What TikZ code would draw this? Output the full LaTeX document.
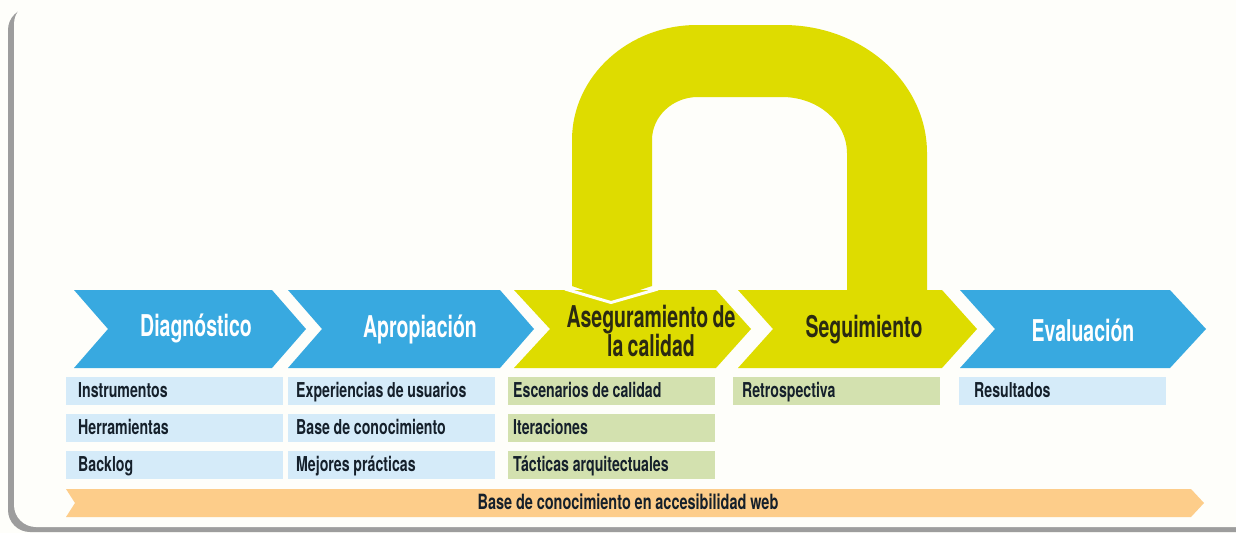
\documentclass[tikz,border=0pt]{standalone}
\usepackage{fontspec}
\setmainfont{TeX Gyre Heros}
\newfontfamily\hdfont[FakeStretch=0.65,WordSpace=0.8]{TeX Gyre Heros Bold}
\newfontfamily\bxfont[FakeStretch=0.69,WordSpace=0.95]{TeX Gyre Heros Bold}
\definecolor{bgc}{HTML}{FEFEFA}
\definecolor{shadowc}{HTML}{9D9D9D}
\definecolor{chblue}{HTML}{38A9E0}
\definecolor{chyellow}{HTML}{DEDC00}
\definecolor{lblue}{HTML}{D5EBF9}
\definecolor{lgreen}{HTML}{D3E1AF}
\definecolor{orangec}{HTML}{FDCD8A}
\definecolor{txtc}{HTML}{15202B}
\definecolor{ytxt}{HTML}{2B2A12}
\tikzset{
  hdw/.style={font=\hdfont\fontsize{30}{27}\selectfont, text=white, anchor=base, inner sep=0pt},
  hdy/.style={font=\hdfont\fontsize{30}{27}\selectfont, text=ytxt, inner sep=0pt, align=center},
  lbox/.style={anchor=north west, font=\bxfont\fontsize{20.5}{21}\selectfont, text=txtc,
    inner ysep=0pt, minimum height=27.5pt, text height=16pt, text depth=2pt, align=flush left},
  bluebox/.style={lbox, fill=lblue},
  greenbox/.style={lbox, fill=lgreen},
}
\begin{document}
\begin{tikzpicture}[x=1pt,y=-1pt]
\useasboundingbox (0,0) rectangle (1236,533);
\fill[bgc] (0,0) rectangle (1236,533);
% panel with shadow
\fill[shadowc, rounded corners=22pt] (8,8) rectangle (1300,532);
\fill[bgc, rounded corners=22pt] (14,2) rectangle (1300,527);

% chevrons
\fill[chblue] (74,290) -- (272,290) -- (306,329) -- (272,368) -- (74,368) -- (108,329) -- cycle;
\fill[chblue] (288,290) -- (500,290) -- (534,329) -- (500,368) -- (288,368) -- (322,329) -- cycle;
\fill[chyellow] (514,290) -- (716,290) -- (751,329) -- (716,368) -- (514,368) -- (550,329) -- cycle;
\fill[chyellow] (738,290) -- (942,290) -- (977,329) -- (942,368) -- (738,368) -- (773,329) -- cycle;
\fill[chblue] (960,290) -- (1170,290) -- (1206,329) -- (1170,368) -- (960,368) -- (995,329) -- cycle;

% separator between arch leg and chevron
\draw[bgc, line width=3pt] (565,289) -- (611,302.5) -- (658,289);

% arch
\fill[chyellow] (572,286) -- (572,140)
  .. controls (572,76.5) and (628,25) .. (697,25)
  -- (783,25)
  .. controls (862.5,25) and (927,82.3) .. (927,153)
  -- (927,291) -- (847,291) -- (847,153)
  .. controls (847,122) and (818,97) .. (782,97)
  -- (698,97)
  .. controls (672.6,97) and (652,116.3) .. (652,140)
  -- (652,286) -- (611,299.5) -- cycle;

% chevron labels
\node[hdw] (diag) at (196,336) {Diagnóstico};
\node[hdw] (apro) at (420,337) {Apropiación};
\node[hdy] (aseg) at (651,331) {Aseguramiento de\\la calidad};
\node[hdy, anchor=base] (segu) at (864,337) {Seguimiento};
\node[hdw] (eval) at (1083,341) {Evaluación};

% boxes column 1
\node[bluebox, inner xsep=12pt, text width=193pt] (b11) at (66,377) {Instrumentos};
\node[bluebox, inner xsep=12pt, text width=193pt] (b12) at (66,414) {Herramientas};
\node[bluebox, inner xsep=12pt, text width=193pt] (b13) at (66,451) {Backlog};
% column 2
\node[bluebox, inner xsep=8pt, text width=191pt] (b21) at (288,377) {Experiencias de usuarios};
\node[bluebox, inner xsep=8pt, text width=191pt] (b22) at (288,414) {Base de conocimiento};
\node[bluebox, inner xsep=8pt, text width=191pt] (b23) at (288,451) {Mejores prácticas};
% column 3
\node[greenbox, inner xsep=5pt, text width=197pt] (b31) at (508,377) {Escenarios de calidad};
\node[greenbox, inner xsep=5pt, text width=197pt] (b32) at (508,414) {Iteraciones};
\node[greenbox, inner xsep=5pt, text width=197pt] (b33) at (508,451) {Tácticas arquitectuales};
% column 4
\node[greenbox, inner xsep=9pt, text width=189pt] (b41) at (733,377) {Retrospectiva};
% column 5
\node[bluebox, inner xsep=15pt, text width=177pt] (b51) at (959,377) {Resultados};

% bottom arrow
\fill[orangec] (66,489) -- (1191,489) -- (1204,503) -- (1191,517) -- (66,517) -- (75,503) -- cycle;
\node[font=\bxfont\fontsize{21}{22}\selectfont, text=txtc, anchor=base, inner sep=0pt] (base) at (628,509) {Base de conocimiento en accesibilidad web};
\end{tikzpicture}
\end{document}
